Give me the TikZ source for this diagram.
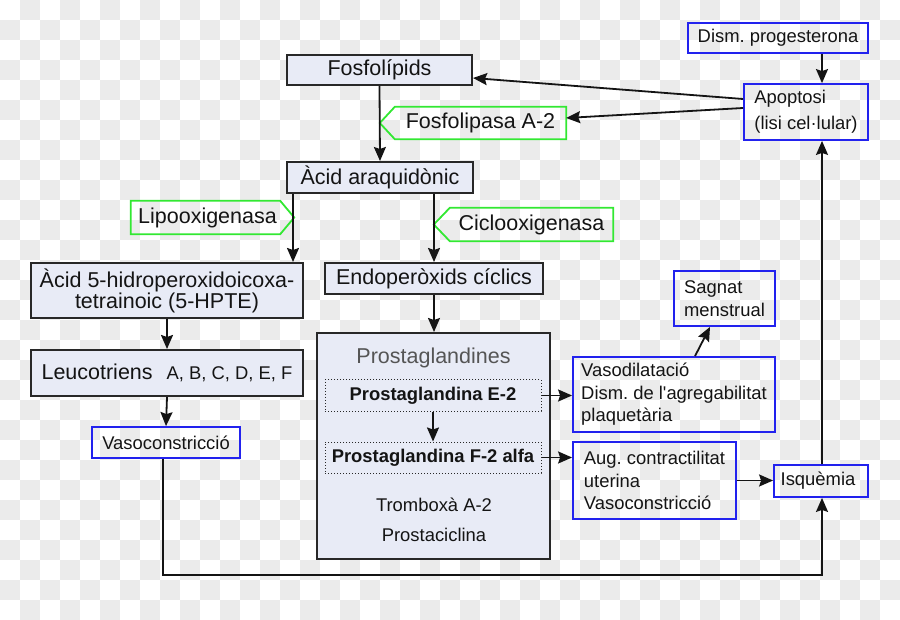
\documentclass[tikz,border=0pt]{standalone}
\usepackage{fontspec}
\setmainfont{Liberation Sans}
\usetikzlibrary{arrows.meta,calc}
\definecolor{lav}{RGB}{232,235,246}
\definecolor{bord}{RGB}{40,40,40}
\definecolor{bluec}{RGB}{34,34,238}
\definecolor{greenc}{RGB}{50,232,50}
\definecolor{chk}{RGB}{235,235,235}
\definecolor{ink}{RGB}{20,20,20}
\definecolor{titlec}{RGB}{85,85,85}
\newcommand\txtbig{\frenchspacing\fontsize{21.5}{21}\selectfont}
\newcommand\txtsmall{\frenchspacing\fontsize{18.4}{22.5}\selectfont}
\begin{document}
\begin{tikzpicture}[x=1pt,y=-1pt,
  darkbox/.style={draw=bord,line width=2pt,fill=lav,inner sep=0pt,font=\txtbig,text=ink},
  bluebox/.style={draw=bluec,line width=1.8pt,inner sep=0pt,font=\txtsmall,text=ink,align=left},
  greenlab/.style={inner sep=0pt,font=\txtbig,text=ink},
  dotbox/.style={draw=bord,dotted,line width=1pt,fill=lav,inner sep=0pt,font=\txtsmall\bfseries,text=ink},
  plain/.style={inner sep=0pt,font=\txtsmall,text=ink},
  arr/.style={draw=ink,line width=1.8pt,-{Stealth[length=14pt,width=12pt,inset=2pt]}},
  glab/.style={draw=greenc,line width=1.8pt}]
\useasboundingbox (0,0) rectangle (900,620);
% checkerboard background
\begin{scope}
\clip (0,0) rectangle (900,620);
\fill[white] (0,0) rectangle (900,620);
\foreach \j in {0,...,30}{
  \pgfmathtruncatemacro{\off}{mod(\j+1,2)}
  \foreach \i in {0,2,...,44}{
    \fill[chk] ({(\i+\off)*20},{\j*20}) rectangle ++(20,20);
  }
}
\end{scope}

% dark boxes
\node[darkbox,minimum width=185pt,minimum height=30pt] (fos) at (379.5,70) {Fosfolípids};
\node[darkbox,minimum width=186pt,minimum height=31pt] (acid) at (380,177.5) {Àcid araquidònic};
\node[darkbox,minimum width=218pt,minimum height=31pt] (endo) at (434,278.5) {Endoperòxids cíclics};
\node[darkbox,minimum width=272pt,minimum height=55pt,align=center] (hpte) at (167,290.5) {Àcid 5-hidroperoxidoicoxa-\\tetrainoic (5-HPTE)};
\node[darkbox,minimum width=272pt,minimum height=46pt] (leu) at (167,373) {Leucotriens\hspace{14pt}{\txtsmall A, B, C, D, E, F}\hspace{9pt}};
\node[darkbox,minimum width=233pt,minimum height=226pt] (pro) at (433.5,446) {};
\node[inner sep=0pt,font=\txtbig,text=titlec] (protit) at (433.5,358) {Prostaglandines};
\node[dotbox,minimum width=216pt,minimum height=31pt] (pge) at (433,395.5) {Prostaglandina E-2};
\node[dotbox,minimum width=216pt,minimum height=31pt] (pgf) at (433,457.5) {Prostaglandina F-2 alfa};
\node[plain] (trb) at (434,505) {Tromboxà A-2};
\node[plain] (pcy) at (434,535) {Prostaciclina};

% blue boxes
\node[bluebox,minimum width=180pt,minimum height=30pt,align=center] (dism) at (778,38) {Dism. progesterona};
\node[bluebox,minimum width=124pt,minimum height=56pt,font=\frenchspacing\fontsize{18.4}{26}\selectfont] (apop) at (806,112) {Apoptosi\\(lisi cel·lular)};
\node[bluebox,minimum width=101pt,minimum height=55pt] (sag) at (724.5,298.5) {Sagnat\\menstrual};
\node[bluebox,minimum width=202pt,minimum height=75pt] (vaso) at (674,394.5) {Vasodilatació\\Dism. de l\textquotesingle agregabilitat\\plaquetària};
\node[bluebox,minimum width=163pt,minimum height=77pt] (aug) at (654.5,480.5) {Aug. contractilitat\\uterina\\Vasoconstricció};
\node[bluebox,minimum width=94pt,minimum height=32pt] (isq) at (821,481) {Isquèmia\hspace{6pt}};
\node[bluebox,minimum width=148pt,minimum height=31pt,align=center] (vasc) at (166,442.5) {Vasoconstricció};

% green enzyme labels
\node[greenlab,minimum width=171pt,minimum height=32pt] (fla) at (480.5,123) {Fosfolipasa A-2};
\draw[glab] (fla.north west) -- (fla.north east) -- (fla.south east) -- (fla.south west) -- ($(fla.west)+(-15,0)$) -- cycle;
\node[greenlab,minimum width=149pt,minimum height=33pt] (lipo) at (205.5,217.5) {\hspace{4pt}Lipooxigenasa};
\draw[glab] (lipo.north west) -- (lipo.north east) -- ($(lipo.east)+(14,0)$) -- (lipo.south east) -- (lipo.south west) -- cycle;
\node[greenlab,minimum width=163pt,minimum height=33pt] (cic) at (531.5,224.5) {Ciclooxigenasa};
\draw[glab] (cic.north west) -- (cic.north east) -- (cic.south east) -- (cic.south west) -- ($(cic.west)+(-16,0)$) -- cycle;

% connectors
\coordinate (rx) at (822,0);
\draw[arr] (fos.south) -- (acid.north);
\draw[arr] ($(apop.west)+(0,-13)$) -- ($(fos.east)+(0,8)$);
\draw[arr] ($(apop.west)+(0,-4)$) -- ($(fla.east)+(0,-5)$);
\draw[arr] (dism.south -| rx) -- (apop.north -| rx);
\draw[arr] (isq.north -| rx) -- (apop.south -| rx);
\coordinate (lx) at ($(acid.south west)+(7,0)$);
\draw[arr] (lx) -- (lx |- hpte.north);
\draw[arr] (endo.north |- acid.south) -- (endo.north);
\draw[arr] (hpte.south) -- (leu.north);
\draw[arr] (leu.south) -- (vasc.north);
\draw[arr] (endo.south) -- (endo.south |- pro.north);
\draw[arr] (pge.south) -- (pgf.north);
\draw[arr] (pge.east) -- (pge.east -| vaso.west);
\draw[arr] (pgf.east) -- (pgf.east -| aug.west);
\draw[arr] ($(vaso.north)+(21,0)$) -- ($(sag.south)+(-14.5,0)$);
\draw[arr] (aug.east) -- (aug.east -| isq.west);
\coordinate (vb) at ($(vasc.south)+(-3,0)$);
\draw[arr] (vb) -- ++(0,116) -| (isq.south -| rx);
\end{tikzpicture}
\end{document}
